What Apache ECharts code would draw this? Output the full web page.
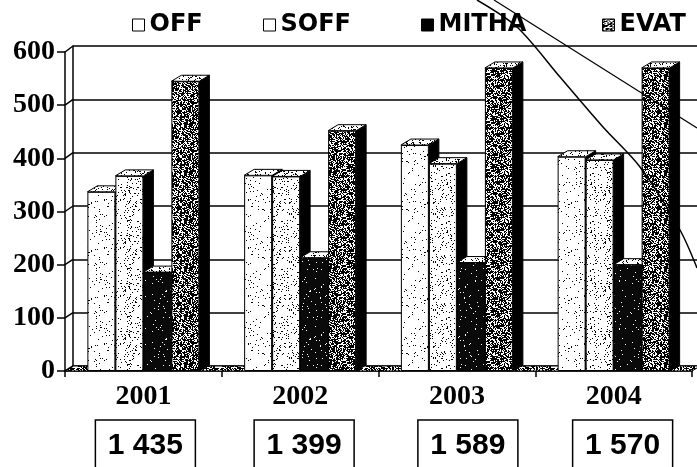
<!DOCTYPE html>
<html>
<head>
<meta charset="utf-8">
<script src="https://cdn.jsdelivr.net/npm/echarts@6/dist/echarts.min.js"></script>
<style>
html, body { margin: 0; padding: 0; background: #fff; }
#chart { width: 697px; height: 467px; }
</style>
</head>
<body>
<div id="chart"></div>
<script>
var myChart = echarts.init(document.getElementById('chart'));

// data
var years = ['2001', '2002', '2003', '2004'];
var seriesNames = ['OFF', 'SOFF', 'MITHA', 'EVAT'];
var offData = [337, 368, 425, 403];
var soffData = [367, 366, 390, 397];
var mithaData = [186, 213, 204, 200];
var evatData = [545, 452, 570, 570];
var totals = ['1 435', '1 399', '1 589', '1 570'];
var yMin = 0, yMax = 600, yStep = 100;

// layout
var FRONT = {left: 65, right: 5, top: 52, bottom: 96};
var BACK = {left: 73, right: -3, top: 46, bottom: 101};
var BAR_W = 28, DX = 10, DY = 6;
var legendLeft = [127, 258, 416, 597];
var boxNudge = [2, 4, 11, 9];

// speckled fills like the photocopy
function speckle(bg, fg, density, seed) {
    var n = 48;
    var c = document.createElement('canvas');
    c.width = n; c.height = n;
    var ctx = c.getContext('2d');
    ctx.fillStyle = bg;
    ctx.fillRect(0, 0, n, n);
    ctx.fillStyle = fg;
    var s = seed;
    for (var i = 0; i < n * n; i++) {
        s = (Math.imul(s, 1103515245) + 12345) & 0x7fffffff;
        if (((s >> 16) % 1000) / 1000 < density) ctx.fillRect(i % n, Math.floor(i / n), 1, 1);
    }
    return {image: c, repeat: 'repeat'};
}

var fills = [
    speckle('#ffffff', '#000000', 0.04, 7),
    speckle('#ffffff', '#000000', 0.11, 19),
    speckle('#0a0a0a', '#ffffff', 0.03, 31),
    speckle('#ffffff', '#000000', 0.62, 43)
];
var legendFills = ['#ffffff', '#ffffff', '#000000', fills[3]];
var topFill = speckle('#ffffff', '#000000', 0.15, 57);
var floorFill = speckle('#ffffff', '#000000', 0.55, 71);

var allValues = [offData, soffData, mithaData, evatData];

// depth faces (top + right side) for each bar
var depthData = [];
for (var k = 0; k < allValues.length; k++) {
    for (var i = 0; i < years.length; i++) {
        depthData.push([i, allValues[k][i], k]);
    }
}

function renderDepth(params, api) {
    var cat = api.value(0), val = api.value(1), k = api.value(2);
    var top = api.coord([cat, val]);
    var base = api.coord([cat, 0]);
    var x0 = top[0] + (k - 2) * BAR_W;
    var x1 = x0 + BAR_W;
    var yt = top[1], yb = base[1];
    return {
        type: 'group',
        children: [{
            type: 'polygon',
            shape: {points: [[x1, yt], [x1 + DX, yt - DY], [x1 + DX, yb - DY], [x1, yb]]},
            style: {fill: '#000', stroke: '#000', lineWidth: 1}
        }, {
            type: 'polygon',
            shape: {points: [[x0, yt], [x0 + DX, yt - DY], [x1 + DX, yt - DY], [x1, yt]]},
            style: {fill: topFill, stroke: '#000', lineWidth: 1}
        }]
    };
}

var series = seriesNames.map(function (name, k) {
    return {
        name: name,
        type: 'bar',
        xAxisIndex: 0,
        yAxisIndex: 0,
        data: allValues[k],
        barWidth: BAR_W,
        barGap: '0%',
        z: 4,
        itemStyle: {color: fills[k], borderColor: '#000', borderWidth: 1}
    };
});
series.unshift({
    type: 'custom',
    name: 'depth',
    xAxisIndex: 0,
    yAxisIndex: 0,
    renderItem: renderDepth,
    data: depthData,
    silent: true,
    z: 3
});

var option = {
    backgroundColor: '#fff',
    animation: false,
    legend: seriesNames.map(function (name, k) {
        return {
            data: [{name: name, itemStyle: {color: legendFills[k], borderColor: '#000', borderWidth: 1}}],
            left: legendLeft[k],
            top: 8,
            icon: 'rect',
            itemWidth: 12,
            itemHeight: 12,
            itemGap: 5,
            textStyle: {
                color: '#000',
                fontFamily: 'DejaVu Sans',
                fontWeight: 'bold',
                fontSize: 24
            }
        };
    }),
    grid: [
        {left: FRONT.left, right: FRONT.right, top: FRONT.top, bottom: FRONT.bottom},
        {left: BACK.left, right: BACK.right, top: BACK.top, bottom: BACK.bottom}
    ],
    xAxis: [{
        type: 'category',
        gridIndex: 0,
        data: years,
        axisLine: {lineStyle: {color: '#000', width: 1.5}},
        axisTick: {show: true, length: 6, lineStyle: {color: '#000', width: 1.5}},
        axisLabel: {
            color: '#000',
            fontFamily: 'Liberation Serif',
            fontWeight: 'bold',
            fontSize: 28,
            margin: 12
        }
    }, {
        type: 'category',
        gridIndex: 1,
        data: years,
        show: false
    }],
    yAxis: [{
        type: 'value',
        gridIndex: 0,
        min: yMin,
        max: yMax,
        interval: yStep,
        axisLine: {show: true, lineStyle: {color: '#000', width: 1.5}},
        axisTick: {show: true, length: 8, lineStyle: {color: '#000', width: 1.5}},
        splitLine: {show: false},
        axisLabel: {
            color: '#000',
            fontFamily: 'Liberation Serif',
            fontWeight: 'bold',
            fontSize: 28,
            margin: 10
        }
    }, {
        type: 'value',
        gridIndex: 1,
        min: yMin,
        max: yMax,
        interval: yStep,
        axisLine: {show: true, lineStyle: {color: '#000', width: 1.5}},
        axisTick: {show: false},
        axisLabel: {show: false},
        splitLine: {show: true, lineStyle: {color: '#000', width: 1.5}}
    }],
    series: series
};

myChart.setOption(option);

// 3D wall edges, floor, total boxes and the pen strokes on the scan
var g = [];
var frontX = FRONT.left, backX = BACK.left;
for (var v = yMin; v <= yMax; v += yStep) {
    var yf = myChart.convertToPixel({yAxisIndex: 0}, v);
    var yb = myChart.convertToPixel({yAxisIndex: 1}, v);
    g.push({
        type: 'line',
        shape: {x1: frontX, y1: yf, x2: backX, y2: yb},
        style: {stroke: '#000', lineWidth: 1.5},
        z: 5
    });
}
var f0 = myChart.convertToPixel({yAxisIndex: 0}, 0);
var b0 = myChart.convertToPixel({yAxisIndex: 1}, 0);
var frontRight = 697 - FRONT.right;
g.push({
    type: 'polygon',
    shape: {points: [[frontX, f0], [backX, b0], [frontRight + (backX - frontX), b0], [frontRight, f0]]},
    style: {fill: floorFill, stroke: '#000', lineWidth: 1},
    z: 1
});

for (var i = 0; i < years.length; i++) {
    var cx = myChart.convertToPixel({xAxisIndex: 0}, i) + boxNudge[i];
    g.push({
        type: 'rect',
        shape: {x: cx - 50, y: 420, width: 100, height: 52},
        style: {fill: '#fff', stroke: '#000', lineWidth: 1.5},
        z: 5
    });
    g.push({
        type: 'text',
        x: cx,
        y: 446,
        style: {
            text: totals[i],
            fill: '#000',
            font: 'bold 30px "Liberation Sans"',
            textAlign: 'center',
            textVerticalAlign: 'middle'
        },
        z: 6
    });
}

g.push({
    type: 'polyline',
    shape: {points: [[477, 0], [517, 27], [560, 77], [603, 127], [640, 167], [680, 230], [697, 268]], smooth: 0.3},
    style: {stroke: '#000', lineWidth: 1.5, fill: null},
    z: 7
});
g.push({
    type: 'polyline',
    shape: {points: [[494, 0], [640, 92], [697, 128]]},
    style: {stroke: '#000', lineWidth: 1.2, fill: null},
    z: 7
});

myChart.setOption({graphic: g});
</script>
</body>
</html>
